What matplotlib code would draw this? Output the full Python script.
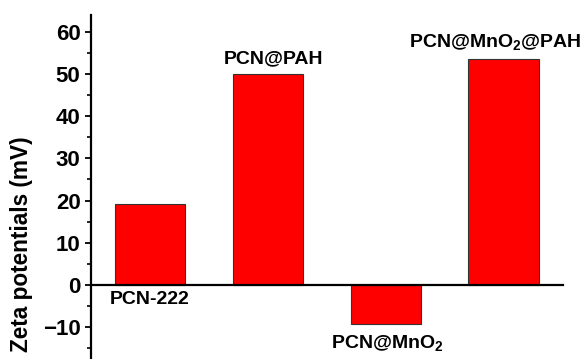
import matplotlib
matplotlib.use("Agg")
import matplotlib.pyplot as plt
from matplotlib.ticker import MultipleLocator

plt.rcParams['font.family'] = ['Liberation Sans', 'DejaVu Sans']
plt.rcParams['font.weight'] = 'bold'
plt.rcParams['mathtext.fontset'] = 'custom'
plt.rcParams['mathtext.rm'] = 'Liberation Sans:bold'
plt.rcParams['mathtext.it'] = 'Liberation Sans:bold'
plt.rcParams['mathtext.bf'] = 'Liberation Sans:bold'

# sample names and measured zeta potentials (mV)
samples = ['PCN-222', 'PCN@PAH', r'PCN@MnO$_2$', r'PCN@MnO$_2$@PAH']
zeta = [19.2, 50.1, -9.2, 53.6]
yticks = [-10, 0, 10, 20, 30, 40, 50, 60]

fig = plt.figure(figsize=(5.84, 3.59), dpi=100)
ax = fig.add_axes([0.1558, -0.029, 0.808, 0.9875])

x = list(range(1, len(samples) + 1))
ax.bar(x, zeta, width=0.6, color='#ff0000', edgecolor='#333333', linewidth=0.8, zorder=2)

# small horizontal nudges so the labels sit like in the original figure
nudge = [0.0, 0.045, 0.015, -0.07]
for xi, val, name, dx in zip(x, zeta, samples, nudge):
    if val >= 0 and xi == 1:
        ax.text(xi + dx, -1.4, name, ha='center', va='top', fontsize=14, fontweight='bold')
    elif val >= 0:
        ax.text(xi + dx, val + 1.6, name, ha='center', va='bottom', fontsize=14, fontweight='bold')
    else:
        ax.text(xi + dx, val - 2.2, name, ha='center', va='top', fontsize=14, fontweight='bold')

ax.set_xlim(0.5, 4.5)
ax.set_ylim(-20, 64)
ax.set_yticks(yticks)
ax.yaxis.set_minor_locator(MultipleLocator(5))
ax.set_xticks([])

ax.spines['top'].set_visible(False)
ax.spines['right'].set_visible(False)
ax.spines['bottom'].set_position(('data', 0))
ax.spines['bottom'].set_linewidth(1.6)
ax.spines['bottom'].set_zorder(3)
ax.spines['left'].set_linewidth(1.6)

ax.tick_params(axis='y', which='major', direction='out', length=4.5, width=1.3,
               labelsize=16, pad=3)
ax.tick_params(axis='y', which='minor', direction='out', length=2.8, width=1.2)
for lbl in ax.get_yticklabels():
    lbl.set_fontweight('bold')

fig.text(22 / 584, 1 - 244 / 359, 'Zeta potentials (mV)', rotation=90,
         ha='center', va='center', fontsize=16.3, fontweight='bold')

fig.savefig('out.png', dpi=100)
